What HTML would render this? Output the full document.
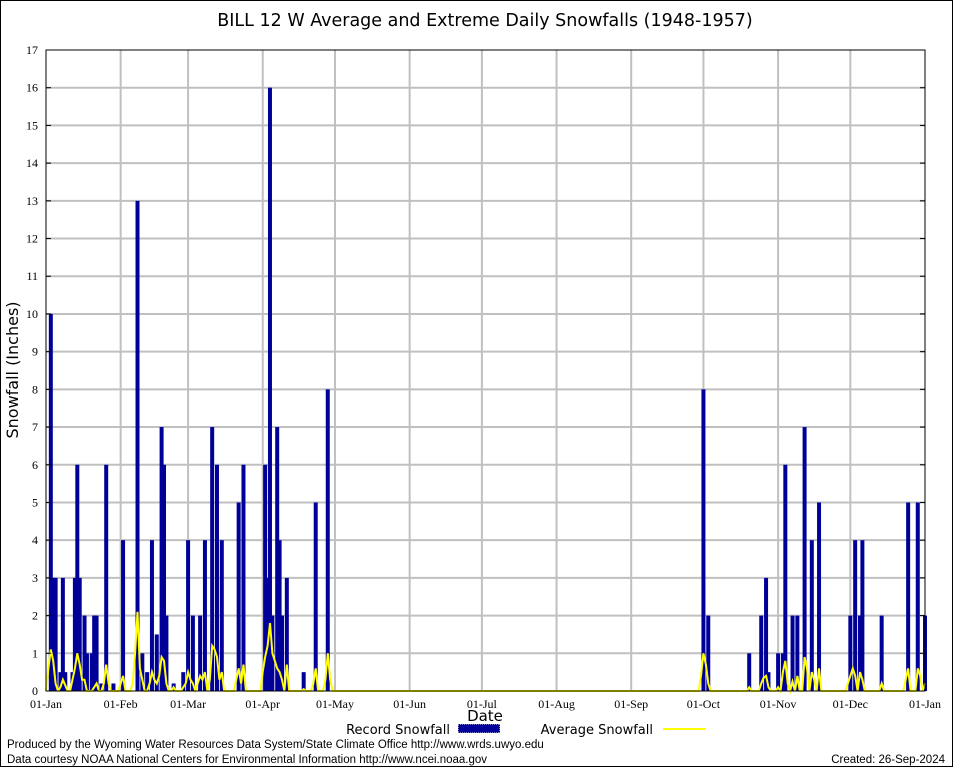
<!DOCTYPE html>
<html><head><meta charset="utf-8"><style>
html,body{margin:0;padding:0;background:#fff;}
svg{display:block;}
text{font-family:"DejaVu Sans","Liberation Sans",sans-serif;}
.tick{font-family:"Liberation Serif",serif;font-size:12px;}
.foot{font-family:"Liberation Sans",sans-serif;font-size:11.5px;}
</style></head><body>
<svg id="chart" width="954" height="768" viewBox="0 0 954 768">
<rect x="0.5" y="0.5" width="952" height="766" fill="#fff" stroke="#000"/>
<text x="485" y="26" text-anchor="middle" font-size="17.5">BILL 12 W Average and Extreme Daily Snowfalls (1948-1957)</text>
<text transform="translate(18,370) rotate(-90)" text-anchor="middle" font-size="16">Snowfall (Inches)</text>
<text x="485" y="721" text-anchor="middle" font-size="15">Date</text>
<g id="grid"></g><g id="bars"></g><g id="avg"></g><g id="axes"></g>
<g>
<text x="450" y="734" text-anchor="end" font-size="13">Record Snowfall</text>
<rect x="458" y="724" width="42" height="9" fill="#000099" stroke="#fff" stroke-dasharray="1 1"/>
<text x="653" y="734" text-anchor="end" font-size="13">Average Snowfall</text>
<line x1="663" y1="729" x2="706" y2="729" stroke="#ffff00" stroke-width="2"/>
</g>
<text x="7" y="748" class="foot">Produced by the Wyoming Water Resources Data System/State Climate Office http://www.wrds.uwyo.edu</text>
<text x="7" y="763" class="foot">Data courtesy NOAA National Centers for Environmental Information http://www.ncei.noaa.gov</text>
<text x="945" y="763" text-anchor="end" class="foot">Created:  26-Sep-2024</text>
</svg>
<script>
const monthLabels=["01-Jan","01-Feb","01-Mar","01-Apr","01-May","01-Jun","01-Jul","01-Aug","01-Sep","01-Oct","01-Nov","01-Dec","01-Jan"];
const monthDays=[0,31,59,90,120,151,181,212,243,273,304,334,365];
const yTicks=[0,1,2,3,4,5,6,7,8,9,10,11,12,13,14,15,16,17];
const recordDays=[2,3,4,6,7,8,11,12,13,14,16,17,19,20,21,23,25,28,32,38,40,42,44,46,48,49,50,53,57,59,61,64,66,69,71,73,80,82,91,92,93,94,96,97,98,100,107,112,117,273,275,292,297,299,300,304,306,307,310,312,315,318,321,334,336,338,339,347,358,362,365];
const recordVals=[10,3,3,0.5,3,0.5,0.5,3,6,3,2,1,1,2,2,0.2,6,0.2,4,13,1,0.5,4,1.5,7,6,2,0.2,0.5,4,2,2,4,7,6,4,5,6,6,3,16,2,7,4,2,3,0.5,5,8,8,2,1,2,3,0.5,1,1,6,2,2,7,4,5,2,4,2,4,2,5,5,2];
const avgDays=[1,2,3,4,6,7,8,11,12,13,14,15,16,20,21,24,25,26,31,32,36,37,38,39,40,43,44,45,46,47,48,49,50,53,57,58,59,60,61,63,64,65,66,68,69,70,71,72,73,79,80,81,82,90,91,92,93,94,95,96,97,98,100,107,111,112,116,117,118,272,273,274,275,292,297,298,299,300,304,306,307,308,310,312,315,316,318,319,321,333,334,335,336,338,339,347,357,358,362,363,365];
const avgVals=[0.6,1.1,0.8,0.2,0.1,0.3,0.15,0.3,0.6,1.0,0.7,0.3,0.3,0.1,0.2,0.2,0.7,0.2,0.2,0.4,0.2,1.0,2.1,0.6,0.3,0.2,0.5,0.3,0.2,0.4,0.9,0.8,0.2,0.1,0.1,0.2,0.5,0.3,0.2,0.2,0.4,0.3,0.5,0.3,1.2,1.1,0.9,0.3,0.5,0.3,0.6,0.2,0.7,0.5,0.9,1.2,1.8,1.0,0.8,0.6,0.5,0.3,0.7,0.05,0.2,0.6,0.3,1.0,0.3,0.4,1.0,0.7,0.2,0.1,0.2,0.35,0.4,0.1,0.1,0.5,0.8,0.2,0.25,0.4,0.9,0.6,0.5,0.3,0.6,0.2,0.4,0.6,0.4,0.5,0.3,0.2,0.3,0.6,0.6,0.4,0.2];

const X0=46,X1=925,Y0=691,Y1=50;
const xs=d=>X0+d*(X1-X0)/365;
const ys=v=>Y0-v*(Y0-Y1)/17;
const NS="http://www.w3.org/2000/svg";
function mk(tag,attrs,parent){const e=document.createElementNS(NS,tag);for(const k in attrs)e.setAttribute(k,attrs[k]);parent.appendChild(e);return e;}
const grid=document.getElementById('grid'),bars=document.getElementById('bars'),avg=document.getElementById('avg'),axes=document.getElementById('axes');
yTicks.forEach(t=>{
  if(t>0&&t<17){const g=mk('line',{x1:X0,x2:X1,y1:ys(t),y2:ys(t),stroke:'#c0c0c0','stroke-width':2},grid);
  
  }
  const l=mk('text',{x:X0-8,y:ys(t)+4,'text-anchor':'end',class:'tick'},axes);l.textContent=t;
  
  
  mk('line',{x1:X0,x2:X0+5,y1:ys(t),y2:ys(t),stroke:'#000'},axes);
  mk('line',{x1:X1-5,x2:X1,y1:ys(t),y2:ys(t),stroke:'#000'},axes);
});
monthDays.forEach((d,i)=>{
  if(i>0&&i<12){const g=mk('line',{x1:xs(d),x2:xs(d),y1:Y1,y2:Y0,stroke:'#c0c0c0','stroke-width':2},grid);
  
  }
  const l=mk('text',{x:xs(d),y:Y0+17,'text-anchor':'middle',class:'tick'},axes);l.textContent=monthLabels[i];
  
  
});
recordDays.forEach((d,i)=>{
  const w=4;
  const b=mk('rect',{x:xs(d)-w/2,y:ys(recordVals[i]),width:w,height:Y0-ys(recordVals[i]),fill:'#000099'},bars);
  
  
});
const avgMap={};avgDays.forEach((d,i)=>avgMap[d]=avgVals[i]);
let pts=[];for(let d=0;d<=365;d++)pts.push(xs(d).toFixed(1)+','+ys(avgMap[d]||0).toFixed(1));
const pl=mk('polyline',{points:pts.join(' '),fill:'none',stroke:'#ffff00','stroke-width':2},avg);


const box=mk('rect',{x:X0,y:Y1,width:X1-X0,height:Y0-Y1,fill:'none',stroke:'#000'},axes);


</script>
</body></html>
